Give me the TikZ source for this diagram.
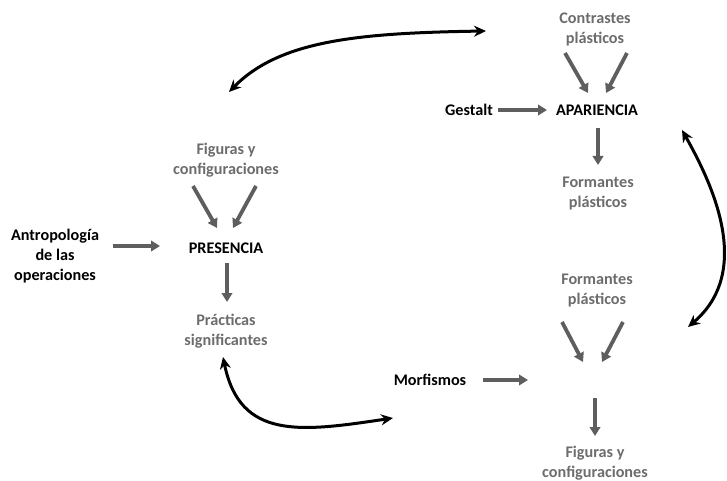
\documentclass[tikz,border=0pt]{standalone}
\usepackage{fontspec}
\setmainfont{Carlito}
\usetikzlibrary{arrows.meta,calc}
\definecolor{txtgray}{HTML}{6C6C6C}
\definecolor{arrgray}{HTML}{5E5E5E}
\tikzset{
  lbl/.style={inner sep=0pt, align=center, font=\fontsize{16.2}{20}\selectfont\bfseries},
  blk/.style={lbl, text=black},
  gry/.style={lbl, text=txtgray},
  garrow/.style={draw=arrgray, line width=3.8pt, -{Triangle[length=9pt,width=10.5pt]}},
  barrow/.style={draw=black, line width=3pt, {Stealth[length=12pt,width=11pt]}-{Stealth[length=12pt,width=11pt]}},
}
\begin{document}
\begin{tikzpicture}[x=1pt,y=-1pt]
\useasboundingbox (0,0) rectangle (727,481);
% nodes
\node[blk] (antro) at (55,256) {Antropología\\de las\\operaciones};
\node[blk] (pres) at (226,248) {PRESENCIA};
\node[gry] (fig1) at (226,160) {Figuras y\\configuraciones};
\node[gry] (prac) at (226,331) {Prácticas\\significantes};
\node[blk] (apar) at (597,110) {APARIENCIA};
\node[blk] (gest) at (469,110) {Gestalt};
\node[gry] (contr) at (595,29) {Contrastes\\plásticos};
\node[gry] (form1) at (598,194) {Formantes\\plásticos};
\node[gry] (form2) at (597,291) {Formantes\\plásticos};
\node[blk] (morf) at (430,380) {Morfismos};
\coordinate (hub) at (593,380);
\node[gry] (fig2) at (595,463) {Figuras y\\configuraciones};
% gray arrows
\draw[garrow] ($(fig1)+(-33,26)$) -- ($(pres)+(-9,-20)$);
\draw[garrow] ($(fig1)+(30,26)$) -- ($(pres)+(7,-20)$);
\draw[garrow] ($(antro)+(58,-10)$) -- ($(pres)+(-66,-2)$);
\draw[garrow] ($(pres)+(1,15)$) -- ($(prac)+(1,-29)$);
\draw[garrow] ($(contr)+(-30,24)$) -- ($(apar)+(-9,-17)$);
\draw[garrow] ($(contr)+(32,24)$) -- ($(apar)+(9,-17)$);
\draw[garrow] ($(gest)+(29,0)$) -- ($(apar)+(-50,0)$);
\draw[garrow] ($(apar)+(1,18)$) -- ($(form1)+(0,-29)$);
\draw[garrow] ($(form2)+(-35,31)$) -- ($(hub)+(-10,-18)$);
\draw[garrow] ($(form2)+(26,31)$) -- ($(hub)+(9,-18)$);
\draw[garrow] ($(morf)+(53,0)$) -- ($(hub)+(-65,0)$);
\draw[garrow] ($(hub)+(2,18)$) -- ($(fig2)+(0,-27)$);
% black curved arrows
\coordinate (t1) at ($(fig1)+(3,-68)$);
\coordinate (t2) at ($(contr)+(-109,2)$);
\draw[barrow] (t1) .. controls (280,40) and (360,33) .. (t2);
\coordinate (r1) at ($(apar)+(85,20)$);
\coordinate (r2) at ($(form2)+(91,36)$);
\draw[barrow] (r1) .. controls (710,180) and (755,270) .. (r2);
\coordinate (b1) at ($(prac)+(-3,26)$);
\coordinate (b2) at ($(morf)+(-37,38)$);
\draw[barrow] (b1) .. controls (240,440) and (300,432) .. (b2);
\end{tikzpicture}
\end{document}
